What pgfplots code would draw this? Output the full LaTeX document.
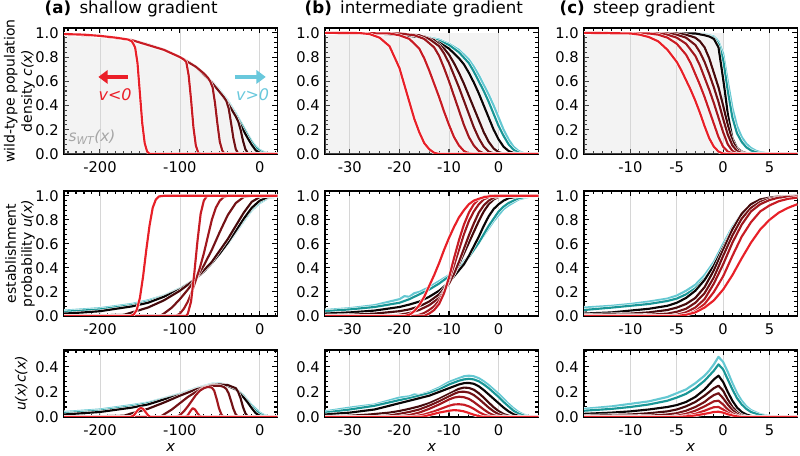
\documentclass[border=0pt]{standalone}
\usepackage{fontspec}
\setmainfont{DejaVu Sans}
\usepackage{pgfplots}
\pgfplotsset{compat=1.18}
\usetikzlibrary{arrows.meta}
\definecolor{cR1}{RGB}{232,32,40}
\definecolor{cR2}{RGB}{200,28,36}
\definecolor{cR3}{RGB}{160,24,30}
\definecolor{cR4}{RGB}{115,18,22}
\definecolor{cR5}{RGB}{70,10,12}
\definecolor{cK}{RGB}{10,5,5}
\definecolor{cT1}{RGB}{25,150,150}
\definecolor{cT2}{RGB}{100,200,210}
\definecolor{cArrR}{RGB}{235,30,40}
\definecolor{cArrC}{RGB}{105,200,220}
\pgfplotsset{
  cv/.style={draw=#1, line width=1.6pt, line join=round, preaction={draw=white, line width=2.4pt}},
  shade/.style={fill=black!15, fill opacity=0.32, draw=none},
  base/.style={scale only axis, width=160pt, anchor=north west,
    axis line style={line width=1.2pt},
    tick style={black, line width=0.8pt},
    major tick length=3.8pt, minor tick length=2.2pt,
    xmajorgrids, major x grid style={black!16, line width=0.5pt},
    tick label style={font=\fontsize{11}{13}\selectfont},
    /pgf/number format/assume math mode=true,
    yticklabel style={/pgf/number format/fixed, /pgf/number format/fixed zerofill, /pgf/number format/precision=1, xshift=-0.5pt},
    xticklabel style={/pgf/number format/fixed, /pgf/number format/precision=0, yshift=-2pt}},
  rowA/.style={base, height=94.5pt, ymin=0, ymax=1.04, ytick={0,0.2,0.4,0.6,0.8,1.0}, minor ytick={0,0.04,...,1.04}},
  rowB/.style={base, height=93.75pt, ymin=0, ymax=1.04, ytick={0,0.2,0.4,0.6,0.8,1.0}, minor ytick={0,0.04,...,1.04}},
  rowC/.style={base, height=50.25pt, ymin=0, ymax=0.535, ytick={0,0.2,0.4}, minor ytick={0,0.04,...,0.52}},
  colA/.style={xmin=-245, xmax=22, xtick={-200,-100,0}, minor xtick={-240,-230,...,20}},
  colB/.style={xmin=-35, xmax=8, xtick={-30,-20,-10,0}, minor xtick={-34,-32,...,8}},
  colC/.style={xmin=-15, xmax=8, xtick={-10,-5,0,5}, minor xtick={-15,-14,...,8}},
}
\begin{document}
\begin{tikzpicture}
\useasboundingbox (0,0) rectangle (600pt,-342pt);
% ================= (a) top
\begin{axis}[rowA, colA, name=A1, at={(48pt,-21pt)}]
\addplot[shade] coordinates {(-245,0.99) (-220,0.985) (-200,0.975) (-180,0.96) (-160,0.94) (-140,0.905) (-120,0.86) (-100,0.8) (-90,0.765) (-80,0.72) (-70,0.665) (-60,0.59) (-50,0.51) (-40,0.42) (-30,0.31) (-20,0.19) (-15,0.13) (-10,0.075) (-5,0.03) (0,0.01) (5,0.003) (10,0)} \closedcycle;
\addplot[cv=cT2] coordinates {(-245,0.99) (-200,0.975) (-160,0.94) (-120,0.86) (-100,0.8) (-80,0.725) (-60,0.6) (-50,0.525) (-40,0.44) (-30,0.335) (-20,0.22) (-15,0.16) (-10,0.105) (-5,0.062) (0,0.033) (5,0.016) (10,0.007) (15,0.002) (22,0)};
\addplot[cv=cT1] coordinates {(-245,0.99) (-200,0.975) (-160,0.94) (-120,0.86) (-100,0.8) (-80,0.72) (-60,0.595) (-50,0.52) (-40,0.43) (-30,0.325) (-20,0.21) (-15,0.15) (-10,0.095) (-5,0.052) (0,0.024) (5,0.01) (10,0.003) (15,0) (22,0)};
\addplot[cv=cK] coordinates {(-245,0.99) (-220,0.985) (-200,0.975) (-180,0.96) (-160,0.94) (-140,0.905) (-120,0.86) (-100,0.8) (-90,0.765) (-80,0.72) (-70,0.665) (-60,0.59) (-50,0.51) (-40,0.42) (-30,0.31) (-20,0.19) (-15,0.13) (-10,0.075) (-5,0.03) (0,0.01) (5,0.003) (10,0) (22,0)};
\addplot[cv=cR5] coordinates {(-245,0.99) (-200,0.975) (-160,0.94) (-120,0.86) (-100,0.8) (-80,0.72) (-60,0.59) (-50,0.51) (-40,0.42) (-30,0.31) (-27,0.27) (-24,0.2) (-21,0.11) (-18,0.04) (-15,0.008) (-12,0) (22,0)};
\addplot[cv=cR4] coordinates {(-245,0.99) (-200,0.975) (-160,0.94) (-120,0.86) (-100,0.8) (-80,0.72) (-60,0.59) (-50,0.51) (-45,0.47) (-42,0.44) (-39,0.38) (-36,0.26) (-33,0.13) (-30,0.04) (-27,0.005) (-24,0) (22,0)};
\addplot[cv=cR3] coordinates {(-245,0.99) (-200,0.975) (-160,0.94) (-120,0.86) (-100,0.8) (-80,0.72) (-70,0.665) (-65,0.63) (-62,0.6) (-59,0.55) (-56,0.42) (-53,0.25) (-50,0.1) (-47,0.03) (-44,0) (22,0)};
\addplot[cv=cR2] coordinates {(-245,0.99) (-200,0.975) (-160,0.94) (-120,0.86) (-100,0.8) (-95,0.78) (-92,0.76) (-89,0.65) (-86,0.45) (-83,0.22) (-80,0.07) (-77,0.01) (-74,0) (22,0)};
\addplot[cv=cR1] coordinates {(-245,0.99) (-220,0.985) (-200,0.975) (-180,0.96) (-165,0.945) (-160,0.93) (-156,0.88) (-153,0.75) (-150,0.5) (-147,0.25) (-144,0.09) (-141,0.02) (-138,0) (22,0)};
\draw[cArrR, line width=2.6pt, -{Triangle[length=7pt,width=10pt]}] (axis cs:-165,0.636) -- (axis cs:-202,0.636);
\draw[cArrC, line width=2.6pt, -{Triangle[length=7pt,width=10pt]}] (axis cs:-31,0.636) -- (axis cs:7.5,0.636);
\node[cArrR, font=\fontsize{12}{14}\selectfont] at (axis cs:-181,0.49) {\textit{v<0}};
\node[cArrC, font=\fontsize{12}{14}\selectfont] at (axis cs:-9,0.49) {\textit{v>0}};
\node[black!35, font=\fontsize{11.5}{13}\selectfont] at (axis cs:-210,0.14) {\textit{s\textsubscript{WT}(x)}};
\end{axis}
% ================= (b) top
\begin{axis}[rowA, colB, name=B1, at={(243.75pt,-21pt)}]
\addplot[shade] coordinates {(-35,1) (0,1)} \closedcycle;
\addplot[cv=cT2] coordinates {(-35,1) (-20,0.99) (-15,0.97) (-12,0.945) (-10,0.91) (-8,0.86) (-6,0.78) (-5,0.72) (-4,0.65) (-3,0.57) (-2,0.49) (-1,0.4) (0,0.3) (1,0.2) (2,0.12) (3,0.06) (4,0.025) (5,0.008) (6,0.002) (8,0)};
\addplot[cv=cT1] coordinates {(-35,1) (-25,0.995) (-20,0.985) (-15,0.965) (-12,0.935) (-10,0.9) (-8,0.84) (-6,0.75) (-5,0.68) (-4,0.6) (-3,0.52) (-2,0.43) (-1,0.33) (0,0.23) (1,0.15) (2,0.08) (3,0.035) (4,0.012) (5,0.003) (6,0) (8,0)};
\addplot[cv=cK] coordinates {(-35,1) (-25,0.995) (-20,0.985) (-15,0.96) (-12,0.92) (-10,0.87) (-8,0.79) (-7,0.74) (-6,0.67) (-5,0.59) (-4,0.5) (-3,0.4) (-2,0.3) (-1,0.2) (0,0.12) (1,0.06) (2,0.025) (3,0.008) (4,0.002) (5,0) (8,0)};
\addplot[cv=cR5] coordinates {(-35,1) (-20,0.995) (-15,0.97) (-13,0.94) (-11,0.87) (-10,0.82) (-9,0.75) (-8,0.67) (-7,0.58) (-6,0.48) (-5,0.38) (-4,0.28) (-3,0.18) (-2,0.1) (-1,0.045) (0,0.015) (1,0.003) (2,0) (8,0)};
\addplot[cv=cR4] coordinates {(-35,1) (-20,0.995) (-16,0.98) (-14,0.95) (-12,0.89) (-11,0.83) (-10,0.75) (-9,0.65) (-8,0.55) (-7,0.44) (-6,0.33) (-5,0.22) (-4,0.13) (-3,0.06) (-2,0.02) (-1,0.005) (0,0) (8,0)};
\addplot[cv=cR3] coordinates {(-35,1) (-20,0.995) (-17,0.98) (-15,0.95) (-13,0.88) (-12,0.81) (-11,0.71) (-10,0.6) (-9,0.48) (-8,0.36) (-7,0.24) (-6,0.14) (-5,0.07) (-4,0.025) (-3,0.005) (-2,0) (8,0)};
\addplot[cv=cR2] coordinates {(-35,1) (-22,0.995) (-20,0.98) (-18,0.95) (-16,0.87) (-15,0.79) (-14,0.69) (-13,0.58) (-12,0.47) (-11,0.35) (-10,0.24) (-9,0.14) (-8,0.07) (-7,0.025) (-6,0.005) (-5,0) (8,0)};
\addplot[cv=cR1] coordinates {(-35,1) (-28,0.998) (-26,0.99) (-24,0.96) (-22,0.89) (-20,0.71) (-19,0.57) (-18,0.43) (-17,0.29) (-16,0.18) (-15,0.09) (-14,0.04) (-13,0.01) (-12,0) (8,0)};
\end{axis}
% ================= (c) top
\begin{axis}[rowA, colC, name=C1, at={(438pt,-21pt)}]
\addplot[shade] coordinates {(-15,1) (0,1)} \closedcycle;
\addplot[cv=cT2] coordinates {(-15,1) (-3,0.995) (-2,0.99) (-1,0.97) (-0.5,0.93) (0,0.83) (0.5,0.6) (1,0.38) (1.5,0.23) (2,0.14) (2.5,0.085) (3,0.05) (3.5,0.028) (4,0.015) (5,0.004) (6,0.001) (8,0)};
\addplot[cv=cT1] coordinates {(-15,1) (-3,0.995) (-2,0.985) (-1,0.96) (-0.5,0.91) (0,0.78) (0.5,0.52) (1,0.3) (1.5,0.17) (2,0.1) (2.5,0.055) (3,0.03) (3.5,0.015) (4,0.007) (5,0.001) (6,0) (8,0)};
\addplot[cv=cK] coordinates {(-15,1) (-3,0.995) (-2,0.98) (-1.5,0.97) (-1,0.95) (-0.5,0.88) (0,0.62) (0.25,0.48) (0.5,0.33) (1,0.13) (1.5,0.05) (2,0.02) (2.5,0.007) (3,0.002) (3.5,0) (8,0)};
\addplot[cv=cR5] coordinates {(-15,1) (-5,0.995) (-4,0.985) (-3,0.96) (-2.5,0.93) (-2,0.88) (-1.5,0.79) (-1,0.67) (-0.5,0.55) (0,0.4) (0.5,0.24) (1,0.11) (1.5,0.04) (2,0.012) (2.5,0.003) (3,0) (8,0)};
\addplot[cv=cR4] coordinates {(-15,1) (-6,0.995) (-5,0.985) (-4,0.96) (-3,0.9) (-2.5,0.84) (-2,0.76) (-1.5,0.66) (-1,0.55) (-0.5,0.43) (0,0.29) (0.5,0.16) (1,0.07) (1.5,0.025) (2,0.007) (2.5,0) (8,0)};
\addplot[cv=cR3] coordinates {(-15,1) (-7,0.995) (-6,0.985) (-5,0.96) (-4,0.91) (-3,0.81) (-2.5,0.73) (-2,0.63) (-1.5,0.53) (-1,0.42) (-0.5,0.3) (0,0.18) (0.5,0.08) (1,0.025) (1.5,0.005) (2,0) (8,0)};
\addplot[cv=cR2] coordinates {(-15,1) (-8,0.995) (-7,0.985) (-6,0.96) (-5,0.91) (-4,0.82) (-3.5,0.75) (-3,0.66) (-2.5,0.57) (-2,0.47) (-1.5,0.36) (-1,0.25) (-0.5,0.14) (0,0.06) (0.5,0.02) (1,0.004) (1.5,0) (8,0)};
\addplot[cv=cR1] coordinates {(-15,1) (-10,0.995) (-9,0.985) (-8,0.965) (-7,0.93) (-6,0.86) (-5,0.76) (-4.5,0.69) (-4,0.61) (-3.5,0.53) (-3,0.44) (-2.5,0.34) (-2,0.23) (-1.5,0.13) (-1,0.06) (-0.5,0.02) (0,0.003) (0.5,0) (8,0)};
\end{axis}
% ================= (a) middle
\begin{axis}[rowB, colA, name=A2, at={(48pt,-143.25pt)}]
\addplot[cv=cT2] coordinates {(-245,0.045) (-200,0.065) (-160,0.1) (-140,0.13) (-120,0.17) (-100,0.23) (-80,0.31) (-60,0.44) (-40,0.6) (-20,0.79) (-10,0.88) (0,0.94) (10,0.98) (22,0.995)};
\addplot[cv=cT1] coordinates {(-245,0.035) (-200,0.055) (-160,0.09) (-140,0.12) (-120,0.165) (-100,0.225) (-80,0.31) (-60,0.44) (-40,0.61) (-20,0.8) (-10,0.89) (0,0.95) (10,0.985) (22,1)};
\addplot[cv=cK] coordinates {(-245,0.02) (-220,0.03) (-200,0.04) (-180,0.06) (-160,0.08) (-140,0.11) (-120,0.16) (-100,0.22) (-80,0.31) (-70,0.37) (-60,0.44) (-50,0.52) (-40,0.61) (-30,0.71) (-20,0.81) (-10,0.9) (0,0.96) (10,0.99) (22,1)};
\addplot[cv=cR5] coordinates {(-245,0) (-170,0.01) (-160,0.03) (-140,0.07) (-120,0.13) (-100,0.21) (-80,0.31) (-60,0.45) (-40,0.64) (-20,0.86) (-10,0.95) (0,0.99) (10,1) (22,1)};
\addplot[cv=cR4] coordinates {(-245,0) (-125,0) (-120,0.02) (-110,0.07) (-100,0.14) (-90,0.22) (-80,0.31) (-70,0.42) (-60,0.55) (-50,0.7) (-40,0.84) (-30,0.94) (-20,0.99) (-10,1) (22,1)};
\addplot[cv=cR3] coordinates {(-245,0) (-105,0) (-100,0.02) (-95,0.06) (-90,0.12) (-85,0.2) (-80,0.3) (-75,0.4) (-70,0.52) (-65,0.66) (-60,0.8) (-55,0.9) (-50,0.96) (-45,0.99) (-40,1) (22,1)};
\addplot[cv=cR2] coordinates {(-245,0) (-92,0) (-90,0.02) (-86,0.12) (-82,0.35) (-78,0.62) (-74,0.85) (-70,0.96) (-66,1) (22,1)};
\addplot[cv=cR1] coordinates {(-245,0) (-162,0) (-158,0.01) (-154,0.05) (-150,0.15) (-146,0.33) (-142,0.55) (-138,0.75) (-134,0.9) (-130,0.97) (-126,0.995) (-120,1) (22,1)};
\end{axis}
% ================= (b) middle
\begin{axis}[rowB, colB, name=B2, at={(243.75pt,-143.25pt)}]
\addplot[cv=cT2] coordinates {(-35,0.05) (-30,0.065) (-25,0.09) (-20,0.14) (-19,0.165) (-18,0.16) (-17,0.19) (-16,0.2) (-14,0.24) (-12,0.29) (-10,0.34) (-8,0.41) (-6,0.5) (-5,0.55) (-4,0.61) (-3,0.67) (-2,0.73) (-1,0.79) (0,0.84) (1,0.89) (2,0.92) (4,0.97) (6,0.99) (8,1)};
\addplot[cv=cT1] coordinates {(-35,0.04) (-30,0.055) (-25,0.075) (-20,0.11) (-18,0.14) (-16,0.18) (-14,0.22) (-12,0.27) (-10,0.33) (-8,0.4) (-7,0.44) (-6,0.49) (-5,0.55) (-4,0.61) (-3,0.68) (-2,0.75) (-1,0.81) (0,0.87) (1,0.91) (2,0.94) (4,0.98) (6,0.995) (8,1)};
\addplot[cv=cK] coordinates {(-35,0.02) (-30,0.03) (-25,0.045) (-20,0.075) (-18,0.095) (-16,0.12) (-14,0.16) (-12,0.21) (-10,0.28) (-9,0.33) (-8,0.38) (-7,0.43) (-6,0.5) (-5,0.58) (-4,0.66) (-3,0.75) (-2,0.83) (-1,0.89) (0,0.93) (1,0.96) (2,0.98) (4,0.995) (8,1)};
\addplot[cv=cR5] coordinates {(-35,0.005) (-30,0.01) (-25,0.02) (-20,0.04) (-18,0.055) (-16,0.08) (-14,0.12) (-12,0.18) (-10,0.28) (-9,0.35) (-8,0.43) (-7,0.52) (-6,0.61) (-5,0.7) (-4,0.79) (-3,0.87) (-2,0.93) (-1,0.97) (0,0.99) (2,1) (8,1)};
\addplot[cv=cR4] coordinates {(-35,0) (-22,0) (-20,0.01) (-18,0.025) (-16,0.05) (-14,0.09) (-12,0.15) (-10,0.27) (-9,0.35) (-8,0.45) (-7,0.56) (-6,0.67) (-5,0.77) (-4,0.86) (-3,0.92) (-2,0.96) (-1,0.985) (0,0.995) (2,1) (8,1)};
\addplot[cv=cR3] coordinates {(-35,0) (-17,0) (-16,0.01) (-15,0.025) (-14,0.05) (-13,0.08) (-12,0.13) (-11,0.2) (-10,0.3) (-9,0.42) (-8,0.55) (-7,0.68) (-6,0.79) (-5,0.87) (-4,0.93) (-3,0.97) (-2,0.99) (-1,1) (8,1)};
\addplot[cv=cR2] coordinates {(-35,0) (-15,0) (-14,0.02) (-13,0.05) (-12,0.1) (-11,0.19) (-10,0.32) (-9,0.48) (-8,0.63) (-7,0.76) (-6,0.86) (-5,0.93) (-4,0.97) (-3,0.99) (-2,1) (8,1)};
\addplot[cv=cR1] coordinates {(-35,0) (-19,0) (-18,0.01) (-17,0.04) (-16,0.09) (-15,0.16) (-14,0.25) (-13,0.34) (-12,0.44) (-11,0.55) (-10,0.65) (-9,0.74) (-8,0.82) (-7,0.88) (-6,0.93) (-5,0.96) (-4,0.975) (-3,0.988) (-2,0.995) (-1,1) (8,1)};
\end{axis}
% ================= (c) middle
\begin{axis}[rowB, colC, name=C2, at={(438pt,-143.25pt)}]
\addplot[cv=cT2] coordinates {(-15,0.07) (-12,0.085) (-10,0.1) (-8,0.12) (-6,0.145) (-5,0.17) (-4,0.21) (-3,0.26) (-2,0.34) (-1,0.45) (0,0.6) (1,0.74) (2,0.85) (3,0.92) (4,0.96) (5,0.98) (6,0.99) (8,1)};
\addplot[cv=cT1] coordinates {(-15,0.05) (-12,0.07) (-10,0.085) (-8,0.1) (-6,0.125) (-5,0.145) (-4,0.18) (-3,0.23) (-2,0.31) (-1,0.42) (0,0.56) (1,0.7) (2,0.82) (3,0.9) (4,0.95) (5,0.975) (6,0.99) (8,1)};
\addplot[cv=cK] coordinates {(-15,0.02) (-12,0.03) (-10,0.045) (-8,0.06) (-6,0.085) (-5,0.11) (-4,0.15) (-3,0.21) (-2,0.3) (-1,0.42) (0,0.57) (1,0.72) (2,0.84) (3,0.92) (4,0.96) (5,0.98) (6,0.99) (8,1)};
\addplot[cv=cR5] coordinates {(-15,0.01) (-10,0.02) (-8,0.03) (-6,0.05) (-5,0.07) (-4,0.1) (-3,0.15) (-2,0.24) (-1,0.38) (0,0.55) (1,0.72) (2,0.85) (3,0.93) (4,0.97) (5,0.985) (6,0.995) (8,1)};
\addplot[cv=cR4] coordinates {(-15,0.005) (-8,0.01) (-6,0.02) (-5,0.035) (-4,0.06) (-3,0.11) (-2,0.19) (-1,0.32) (0,0.5) (1,0.67) (2,0.81) (3,0.9) (4,0.95) (5,0.975) (6,0.99) (8,1)};
\addplot[cv=cR3] coordinates {(-15,0) (-6,0) (-5,0.01) (-4,0.03) (-3,0.07) (-2,0.14) (-1,0.27) (0,0.43) (0.5,0.52) (1,0.61) (2,0.76) (3,0.87) (4,0.93) (5,0.965) (6,0.985) (8,0.995)};
\addplot[cv=cR2] coordinates {(-15,0) (-5,0) (-4,0.01) (-3,0.04) (-2,0.1) (-1,0.2) (0,0.33) (1,0.5) (2,0.66) (3,0.78) (4,0.87) (5,0.92) (6,0.955) (7,0.975) (8,0.985)};
\addplot[cv=cR1] coordinates {(-15,0) (-5,0) (-4,0.01) (-3,0.03) (-2,0.07) (-1,0.13) (0,0.22) (1,0.34) (2,0.48) (3,0.61) (4,0.72) (5,0.8) (6,0.86) (7,0.9) (8,0.93)};
\end{axis}
% ================= (a) bottom
\begin{axis}[rowC, colA, name=A3, at={(48pt,-262.5pt)}]
\addplot[cv=cT2] coordinates {(-245,0.04) (-200,0.06) (-160,0.095) (-140,0.115) (-120,0.15) (-100,0.185) (-80,0.23) (-60,0.265) (-50,0.268) (-40,0.256) (-30,0.23) (-20,0.17) (-10,0.095) (0,0.035) (5,0.017) (10,0.007) (22,0)};
\addplot[cv=cT1] coordinates {(-245,0.03) (-200,0.05) (-160,0.085) (-140,0.11) (-120,0.145) (-100,0.18) (-80,0.225) (-60,0.26) (-50,0.262) (-40,0.252) (-30,0.225) (-20,0.165) (-10,0.085) (-5,0.05) (0,0.025) (5,0.01) (10,0.003) (22,0)};
\addplot[cv=cK] coordinates {(-245,0.02) (-200,0.04) (-160,0.075) (-140,0.1) (-120,0.14) (-100,0.175) (-80,0.22) (-70,0.24) (-60,0.255) (-50,0.258) (-40,0.248) (-30,0.22) (-20,0.155) (-15,0.115) (-10,0.07) (-5,0.03) (0,0.01) (5,0.003) (22,0)};
\addplot[cv=cR5] coordinates {(-245,0) (-170,0.01) (-160,0.03) (-140,0.065) (-120,0.115) (-100,0.17) (-80,0.22) (-60,0.255) (-50,0.26) (-40,0.255) (-30,0.23) (-27,0.2) (-24,0.15) (-21,0.08) (-18,0.03) (-15,0.005) (-12,0) (22,0)};
\addplot[cv=cR4] coordinates {(-245,0) (-125,0) (-120,0.02) (-110,0.06) (-100,0.11) (-90,0.16) (-80,0.2) (-70,0.235) (-60,0.25) (-50,0.25) (-45,0.24) (-42,0.225) (-39,0.19) (-36,0.13) (-33,0.065) (-30,0.02) (-27,0) (22,0)};
\addplot[cv=cR3] coordinates {(-245,0) (-105,0) (-100,0.015) (-95,0.045) (-90,0.085) (-85,0.13) (-80,0.175) (-75,0.21) (-70,0.23) (-65,0.24) (-60,0.235) (-57,0.21) (-54,0.145) (-51,0.07) (-48,0.02) (-45,0) (22,0)};
\addplot[cv=cR2] coordinates {(-245,0) (-93,0) (-90,0.015) (-87,0.045) (-84,0.07) (-81,0.06) (-78,0.03) (-75,0.008) (-72,0) (22,0)};
\addplot[cv=cR1] coordinates {(-245,0) (-162,0) (-158,0.01) (-155,0.035) (-152,0.06) (-149,0.072) (-146,0.065) (-143,0.04) (-140,0.015) (-137,0) (22,0)};
\end{axis}
% ================= (b) bottom
\begin{axis}[rowC, colB, name=B3, at={(243.75pt,-262.5pt)}]
\addplot[cv=cT2] coordinates {(-35,0.045) (-30,0.075) (-25,0.1) (-20,0.155) (-18,0.165) (-17,0.18) (-16,0.175) (-14,0.2) (-12,0.235) (-10,0.28) (-8,0.31) (-7,0.325) (-6,0.33) (-5,0.325) (-4,0.31) (-3,0.285) (-2,0.255) (-1,0.22) (0,0.185) (1,0.145) (2,0.105) (3,0.07) (4,0.04) (5,0.02) (6,0.008) (8,0)};
\addplot[cv=cT1] coordinates {(-35,0.035) (-30,0.06) (-25,0.09) (-20,0.135) (-18,0.15) (-16,0.17) (-14,0.19) (-12,0.22) (-10,0.26) (-8,0.29) (-7,0.3) (-6,0.305) (-5,0.3) (-4,0.285) (-3,0.26) (-2,0.23) (-1,0.195) (0,0.16) (1,0.12) (2,0.085) (3,0.05) (4,0.027) (5,0.012) (6,0.004) (8,0)};
\addplot[cv=cK] coordinates {(-35,0.02) (-30,0.035) (-25,0.06) (-20,0.11) (-18,0.13) (-16,0.15) (-14,0.17) (-12,0.2) (-10,0.23) (-8,0.26) (-7,0.27) (-6,0.272) (-5,0.265) (-4,0.245) (-3,0.215) (-2,0.18) (-1,0.145) (0,0.11) (1,0.075) (2,0.045) (3,0.022) (4,0.008) (5,0.002) (8,0)};
\addplot[cv=cR5] coordinates {(-35,0.003) (-30,0.01) (-26,0.02) (-22,0.035) (-20,0.048) (-18,0.065) (-16,0.085) (-14,0.11) (-12,0.145) (-10,0.185) (-9,0.205) (-8,0.225) (-7,0.235) (-6,0.232) (-5,0.218) (-4,0.19) (-3,0.155) (-2,0.115) (-1,0.078) (0,0.047) (1,0.024) (2,0.01) (3,0.003) (4,0) (8,0)};
\addplot[cv=cR4] coordinates {(-35,0) (-26,0) (-24,0.005) (-22,0.012) (-20,0.025) (-18,0.04) (-16,0.06) (-14,0.09) (-12,0.125) (-10,0.165) (-9,0.185) (-8,0.2) (-7,0.202) (-6,0.195) (-5,0.175) (-4,0.145) (-3,0.11) (-2,0.075) (-1,0.045) (0,0.022) (1,0.008) (2,0.002) (3,0) (8,0)};
\addplot[cv=cR3] coordinates {(-35,0) (-22,0) (-20,0.005) (-18,0.015) (-16,0.035) (-14,0.065) (-12,0.1) (-10,0.14) (-9,0.155) (-8,0.162) (-7,0.158) (-6,0.145) (-5,0.12) (-4,0.09) (-3,0.06) (-2,0.033) (-1,0.014) (0,0.004) (1,0) (8,0)};
\addplot[cv=cR2] coordinates {(-35,0) (-18,0) (-17,0.005) (-15,0.02) (-13,0.045) (-11,0.075) (-10,0.09) (-9,0.1) (-8,0.102) (-7,0.098) (-6,0.085) (-5,0.065) (-4,0.04) (-3,0.02) (-2,0.007) (-1,0) (8,0)};
\addplot[cv=cR1] coordinates {(-35,0) (-16,0) (-15,0.005) (-14,0.015) (-12,0.035) (-10,0.05) (-9,0.055) (-8,0.052) (-7,0.045) (-6,0.032) (-5,0.018) (-4,0.007) (-3,0) (8,0)};
\end{axis}
% ================= (c) bottom
\begin{axis}[rowC, colC, name=C3, at={(438pt,-262.5pt)}]
\addplot[cv=cT2] coordinates {(-15,0.065) (-12,0.085) (-10,0.105) (-8,0.125) (-6,0.16) (-5,0.19) (-4,0.22) (-3,0.27) (-2,0.33) (-1.5,0.37) (-1,0.42) (-0.5,0.48) (0,0.44) (0.5,0.36) (1,0.27) (1.5,0.19) (2,0.13) (2.5,0.085) (3,0.055) (4,0.022) (5,0.008) (6,0.002) (8,0)};
\addplot[cv=cT1] coordinates {(-15,0.05) (-12,0.065) (-10,0.08) (-8,0.1) (-6,0.13) (-5,0.155) (-4,0.185) (-3,0.23) (-2,0.29) (-1.5,0.33) (-1,0.37) (-0.5,0.42) (0,0.38) (0.5,0.3) (1,0.22) (1.5,0.15) (2,0.1) (2.5,0.065) (3,0.04) (4,0.015) (5,0.005) (6,0.001) (8,0)};
\addplot[cv=cK] coordinates {(-15,0.025) (-12,0.035) (-10,0.045) (-8,0.06) (-6,0.08) (-5,0.095) (-4,0.12) (-3,0.16) (-2,0.22) (-1.5,0.26) (-1,0.3) (-0.5,0.33) (0,0.28) (0.5,0.2) (1,0.13) (1.5,0.075) (2,0.04) (2.5,0.02) (3,0.008) (4,0.002) (5,0) (8,0)};
\addplot[cv=cR5] coordinates {(-15,0.01) (-10,0.02) (-8,0.03) (-6,0.045) (-5,0.06) (-4,0.085) (-3,0.12) (-2,0.17) (-1.5,0.2) (-1,0.23) (-0.5,0.25) (0,0.21) (0.5,0.14) (1,0.08) (1.5,0.04) (2,0.015) (2.5,0.005) (3,0) (8,0)};
\addplot[cv=cR4] coordinates {(-15,0.005) (-8,0.01) (-6,0.02) (-5,0.03) (-4,0.05) (-3,0.08) (-2,0.12) (-1.5,0.15) (-1,0.175) (-0.5,0.19) (0,0.15) (0.5,0.1) (1,0.055) (1.5,0.025) (2,0.008) (2.5,0.002) (3,0) (8,0)};
\addplot[cv=cR3] coordinates {(-15,0) (-6,0) (-5,0.01) (-4,0.025) (-3,0.05) (-2,0.085) (-1.5,0.105) (-1,0.125) (-0.5,0.13) (0,0.1) (0.5,0.06) (1,0.03) (1.5,0.012) (2,0.003) (2.5,0) (8,0)};
\addplot[cv=cR2] coordinates {(-15,0) (-5,0) (-4,0.01) (-3,0.025) (-2,0.05) (-1.5,0.065) (-1,0.078) (-0.5,0.08) (0,0.06) (0.5,0.035) (1,0.016) (1.5,0.005) (2,0) (8,0)};
\addplot[cv=cR1] coordinates {(-15,0) (-5,0) (-4,0.005) (-3,0.012) (-2,0.025) (-1.5,0.032) (-1,0.04) (-0.5,0.042) (0,0.035) (0.5,0.022) (1,0.012) (1.5,0.005) (2,0.001) (2.5,0) (8,0)};
\end{axis}
% ================= titles, axis labels
\node[anchor=base west, font=\fontsize{12.5}{14}\selectfont] at ([xshift=-18pt, yshift=10.5pt]A1.north west) {\textbf{(a)}\hspace{0.5em}shallow gradient};
\node[anchor=base west, font=\fontsize{12.5}{14}\selectfont] at ([xshift=-18.75pt, yshift=10.5pt]B1.north west) {\textbf{(b)}\hspace{0.5em}intermediate gradient};
\node[anchor=base west, font=\fontsize{12.5}{14}\selectfont] at ([xshift=-21.75pt, yshift=10.5pt]C1.north west) {\textbf{(c)}\hspace{0.5em}steep gradient};
\node[rotate=90, font=\fontsize{10.5}{13}\selectfont, inner sep=0pt] at ([xshift=-40pt]A1.west) {wild-type population};
\node[rotate=90, font=\fontsize{10.5}{13}\selectfont, inner sep=0pt] at ([xshift=-27pt]A1.west) {density \textit{c(x)}};
\node[rotate=90, font=\fontsize{10.5}{13}\selectfont, inner sep=0pt] at ([xshift=-40pt]A2.west) {establishment};
\node[rotate=90, font=\fontsize{10.5}{13}\selectfont, inner sep=0pt] at ([xshift=-27pt]A2.west) {probability \textit{u(x)}};
\node[rotate=90, font=\fontsize{10.5}{13}\selectfont, inner sep=0pt] at ([xshift=-32pt]A3.west) {\textit{u(x)c(x)}};
\node[font=\fontsize{11}{13}\selectfont, inner sep=0pt] at ([yshift=-22.5pt]A3.south) {\textit{x}};
\node[font=\fontsize{11}{13}\selectfont, inner sep=0pt] at ([yshift=-22.5pt]B3.south) {\textit{x}};
\node[font=\fontsize{11}{13}\selectfont, inner sep=0pt] at ([yshift=-22.5pt]C3.south) {\textit{x}};
\end{tikzpicture}
\end{document}
